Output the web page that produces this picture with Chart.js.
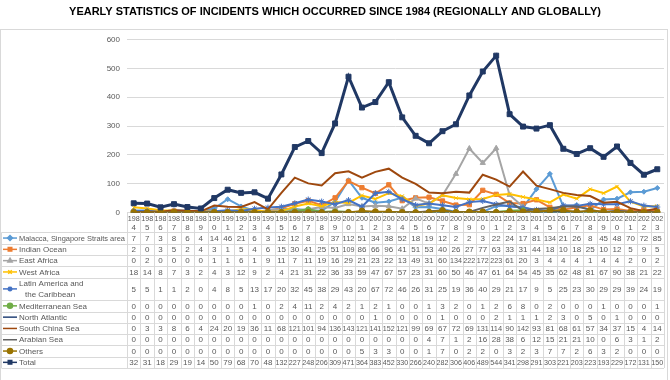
<!DOCTYPE html>
<html>
<head>
<meta charset="utf-8">
<script src="https://cdn.jsdelivr.net/npm/chart.js"></script>
<style>
  body { margin: 0; background: #fff; }
  #wrap { width: 670px; height: 380px; }
</style>
</head>
<body>
<div id="wrap"><canvas id="grafico" width="670" height="380"></canvas></div>
<script>
const anos = ['1984','1985','1986','1987','1988','1989','1990','1991','1992','1993','1994','1995','1996','1997','1998','1999','2000','2001','2002','2003','2004','2005','2006','2007','2008','2009','2010','2011','2012','2013','2014','2015','2016','2017','2018','2019','2020','2021','2022','2023'];
const yTicks = [0, 100, 200, 300, 400, 500, 600];

const malacca = [7,7,3,8,6,4,14,46,21,6,3,12,12,8,6,37,112,51,34,38,52,18,19,12,2,2,3,22,24,17,81,134,21,26,8,45,48,70,72,85];
const indianOcean = [2,0,3,5,2,4,3,1,5,4,6,15,30,41,25,51,109,86,66,96,41,51,53,40,26,27,77,63,33,31,44,18,10,18,25,10,12,5,9,5];
const eastAfrica = [0,2,0,0,0,0,1,1,6,1,9,11,7,11,19,16,29,21,23,22,13,49,31,60,134,222,172,223,61,20,3,4,4,4,1,4,4,2,0,2];
const westAfrica = [18,14,8,7,3,2,4,3,12,9,2,4,21,31,22,36,33,59,47,67,57,23,31,60,50,46,47,61,64,54,45,35,62,48,81,67,90,38,21,22];
const latinAmerica = [5,5,1,1,2,0,4,8,5,13,17,20,32,45,38,29,43,20,67,72,46,26,31,25,19,36,40,29,21,17,9,5,25,23,30,29,29,39,24,19];
const mediterranean = [0,0,0,0,0,0,0,0,0,1,0,2,4,11,2,4,2,1,2,1,0,0,1,3,2,0,1,2,6,8,0,2,0,0,0,1,0,0,0,1];
const northAtlantic = [0,0,0,0,0,0,0,0,0,0,0,0,0,0,0,0,0,0,1,0,0,0,0,1,0,0,0,2,1,1,1,2,3,0,5,0,1,0,0,0];
const southChinaSea = [0,3,3,8,6,4,24,20,19,36,11,68,121,101,94,136,143,121,141,152,121,99,69,67,72,69,131,114,90,142,93,81,68,61,57,34,37,15,4,14];
const arabianSea = [0,0,0,0,0,0,0,0,0,0,0,0,0,0,0,0,0,0,0,0,0,0,4,7,1,2,16,28,38,6,12,15,21,21,10,0,6,3,1,2];
const others = [0,0,0,0,0,0,0,0,0,0,0,0,0,0,0,0,0,5,3,3,0,0,1,7,0,2,2,0,3,2,3,7,7,2,6,3,2,0,0,0];
const total = [32,31,18,29,19,14,50,79,68,70,48,132,227,248,206,309,471,364,383,452,330,266,240,282,306,406,489,544,341,298,291,303,221,203,223,193,229,172,131,150];

// Séries: nome, dados, cor, marcador
const series = [
    { nome: ['Malacca, Singapore Straits area'], dados: malacca, cor: '#5B9BD5', ponto: 'rectRot', raio: 2.5 },
    { nome: ['Indian Ocean'], dados: indianOcean, cor: '#ED7D31', ponto: 'rect', raio: 3 },
    { nome: ['East Africa'], dados: eastAfrica, cor: '#A5A5A5', ponto: 'triangle', raio: 3 },
    { nome: ['West Africa'], dados: westAfrica, cor: '#FFC000', ponto: 'crossRot', raio: 2.5 },
    { nome: ['Latin America and', 'the Caribbean'], dados: latinAmerica, cor: '#4472C4', ponto: 'star', raio: 3 },
    { nome: ['Mediterranean Sea'], dados: mediterranean, cor: '#70AD47', ponto: 'circle', raio: 2.5 },
    { nome: ['North Atlantic'], dados: northAtlantic, cor: '#264478', ponto: 'line', raio: 2.5 },
    { nome: ['South China Sea'], dados: southChinaSea, cor: '#9E480E', ponto: 'line', raio: 0 },
    { nome: ['Arabian Sea'], dados: arabianSea, cor: '#636363', ponto: 'line', raio: 0 },
    { nome: ['Others'], dados: others, cor: '#997300', ponto: 'circle', raio: 3 },
    { nome: ['Total'], dados: total, cor: '#203864', ponto: 'rect', raio: 3.5 }
];

const titulo = 'YEARLY STATISTICS OF INCIDENTS WHICH OCCURRED SINCE 1984 (REGIONALLY AND GLOBALLY)';
const cinza = '#595959';
const linhaGrade = '#D9D9D9';

// Desenha título, rótulos do eixo X e a tabela de dados
const tabelaPlugin = {
    id: 'tabela',
    afterDraw(chart) {
        const ctx = chart.ctx;
        const xs = chart.scales.x;
        const area = chart.chartArea;
        const colW = (area.right - area.left) / anos.length;
        const maxW = colW - 1.5;
        ctx.save();

        // moldura
        ctx.strokeStyle = linhaGrade;
        ctx.lineWidth = 1;
        ctx.strokeRect(0.5, 29.5, 667, 360);

        // título
        ctx.fillStyle = '#000';
        ctx.font = 'bold 11px "Liberation Sans", Arial, sans-serif';
        ctx.textAlign = 'center';
        ctx.textBaseline = 'middle';
        ctx.fillText(titulo, 335, 12, 545);

        // rótulos dos anos (quebrados em 2 linhas)
        ctx.fillStyle = cinza;
        ctx.font = '8px "Liberation Sans", Arial, sans-serif';
        anos.forEach((a, i) => {
            const cx = xs.getPixelForValue(i);
            ctx.fillText(a.slice(0, 3), cx, 219, maxW);
            ctx.fillText(a.slice(3), cx, 228, maxW);
        });

        const rowH = 11.3;
        let top = 232.4;
        const left = 1.5;

        // linhas verticais
        ctx.beginPath();
        for (let i = 0; i <= anos.length; i++) {
            const x = Math.round(area.left + i * colW) + 0.5;
            ctx.moveTo(x, area.bottom);
            ctx.lineTo(x, 368);
        }
        ctx.moveTo(left, top);
        ctx.lineTo(left, 368);
        ctx.stroke();

        ctx.beginPath();
        ctx.moveTo(left, Math.round(top) + 0.5);
        ctx.lineTo(area.right, Math.round(top) + 0.5);
        ctx.stroke();

        series.forEach(s => {
            const h = rowH * s.nome.length;
            const cy = top + h / 2;

            // amostra da legenda
            ctx.strokeStyle = s.cor;
            ctx.lineWidth = 1.5;
            ctx.beginPath();
            ctx.moveTo(3, cy);
            ctx.lineTo(17, cy);
            ctx.stroke();
            if (s.raio > 0 && s.ponto !== 'line' && Chart.helpers && Chart.helpers.drawPoint) {
                ctx.fillStyle = s.cor;
                Chart.helpers.drawPoint(ctx, { pointStyle: s.ponto, radius: Math.min(s.raio, 2.5), rotation: 0, borderWidth: 1 }, 10, cy);
            }

            // nome
            ctx.fillStyle = cinza;
            ctx.textAlign = 'left';
            if (s.nome.length === 1) {
                ctx.fillText(s.nome[0], 19, cy + 0.5, 106);
            } else {
                ctx.fillText(s.nome[0], 19, top + rowH / 2 + 0.5);
                ctx.fillText(s.nome[1], 25, top + rowH * 1.5 + 0.5);
            }

            // valores
            ctx.textAlign = 'center';
            s.dados.forEach((v, i) => {
                ctx.fillText(String(v), xs.getPixelForValue(i), cy + 0.5, maxW);
            });

            top += h;
            ctx.strokeStyle = linhaGrade;
            ctx.lineWidth = 1;
            ctx.beginPath();
            ctx.moveTo(left, Math.round(top) + 0.5);
            ctx.lineTo(area.right, Math.round(top) + 0.5);
            ctx.stroke();
        });

        ctx.restore();
    }
};

const datasets = series.map((s, i) => ({
    label: s.nome.join(' '),
    data: s.dados,
    borderColor: s.cor,
    backgroundColor: s.cor,
    borderWidth: s.nome[0] === 'Total' ? 3 : 2,
    pointStyle: s.ponto,
    pointRadius: s.raio,
    pointBorderWidth: 1,
    pointBorderColor: s.cor,
    pointBackgroundColor: s.cor,
    tension: 0,
    order: series.length - i
}));

new Chart(document.getElementById('grafico'), {
    type: 'line',
    data: { labels: anos, datasets: datasets },
    options: {
        responsive: false,
        animation: false,
        layout: { padding: { left: 0, top: 39.5, right: 6, bottom: 167.5 } },
        plugins: {
            legend: { display: false },
            tooltip: { enabled: false }
        },
        scales: {
            x: { type: 'category', offset: true, display: false },
            y: {
                min: 0,
                max: 600,
                afterFit(scale) { scale.width = 127; },
                afterBuildTicks(scale) { scale.ticks = yTicks.map(v => ({ value: v })); },
                ticks: { color: cinza, font: { size: 8, family: '"Liberation Sans", Arial, sans-serif' }, padding: 7 },
                grid: { color: linhaGrade, drawTicks: false },
                border: { display: false }
            }
        }
    },
    plugins: [tabelaPlugin]
});
</script>
</body>
</html>
